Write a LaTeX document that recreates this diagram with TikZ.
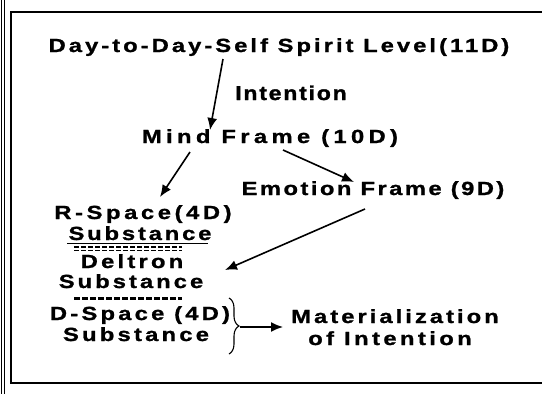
\documentclass[tikz,border=0pt]{standalone}
\usepackage{fontspec}
\setmainfont{Liberation Sans}
\newfontfamily\dfont{Liberation Sans Bold}[FakeStretch=1.25,FakeBold=1.2]
\newfontfamily\intentfont{Liberation Sans Bold}[FakeStretch=1.15,FakeBold=1.5]
\usetikzlibrary{arrows.meta,decorations.pathreplacing}
\newcommand\spacedtext[2]{\addfontfeature{LetterSpace=#1}#2}
\begin{document}
\begin{tikzpicture}[x=1pt,y=-1pt,
  txt/.style={inner sep=0pt, anchor=base, font=\dfont\fontsize{19}{21}\selectfont},
  bigtxt/.style={inner sep=0pt, anchor=base, font=\intentfont\fontsize{20}{22}\selectfont},
  arr/.style={-{Latex[length=12pt,width=10pt]}, line width=1.6pt},
  framel/.style={line width=1.4pt},
  thinl/.style={line width=0.8pt}]
\useasboundingbox (0,0) rectangle (542,394);
% frame
\draw[thinl] (1,0) -- (1,394);
\draw[thinl] (4,0) -- (4,394);
\draw[framel] (542,12) -- (11,12) -- (11,383) -- (542,383);
% texts
\node[txt] (title) at (279,52) {\spacedtext{16}{Day-to-Day-Self Spirit Level(11D)}};
\node[bigtxt] (intent) at (291,100) {\spacedtext{9}{Intention}};
\node[txt] (mind) at (270,143) {\spacedtext{23}{Mind Frame (10D)}};
\node[txt] (emotion) at (373,195) {\spacedtext{13}{Emotion Frame (9D)}};
\node[txt] (rspace) at (143,219) {\spacedtext{19}{R-Space(4D)}};
\node[txt] (sub1) at (140,240) {\spacedtext{15}{Substance}};
\node[txt] (deltron) at (132,268) {\spacedtext{17}{Deltron}};
\node[txt] (sub2) at (131,288) {\spacedtext{16}{Substance}};
\node[txt] (dspace) at (140,320) {\spacedtext{17}{D-Space (4D)}};
\node[txt] (sub3) at (136,341) {\spacedtext{17}{Substance}};
\node[txt] (mat) at (395,323) {\spacedtext{16}{Materialization}};
\node[txt] (ofint) at (390,345) {\spacedtext{18}{of Intention}};
% underline and separators
\draw[line width=0.9pt] (67,243) -- (208,243);
\draw[line width=1.2pt, dash pattern=on 5pt off 2pt] (74,247) -- (182,247);
\draw[line width=1.2pt, dash pattern=on 5pt off 2pt] (74,250.5) -- (182,250.5);
\draw[line width=3pt, dash pattern=on 6pt off 2pt] (74,298) -- (182,298);
% brace
\draw[line width=1.1pt, decorate, decoration={brace, amplitude=10pt}] (229,298) -- (229,354);
\coordinate (btip) at (240,327);
% arrows
\draw[arr] ([shift={(-56,7)}]title.base) -- ([shift={(-60,-13)}]mind.base);
\draw[arr] ([shift={(-80,9)}]mind.base) -- ([shift={(17,-22)}]rspace.base);
\draw[arr] ([shift={(13,7)}]mind.base) -- ([shift={(-19,-13)}]emotion.base);
\draw[arr] ([shift={(-8,14)}]emotion.base) -- ([shift={(93,2)}]deltron.base);
\draw[arr] (btip) -- ([shift={(-112,4)}]mat.base);
\end{tikzpicture}
\end{document}
